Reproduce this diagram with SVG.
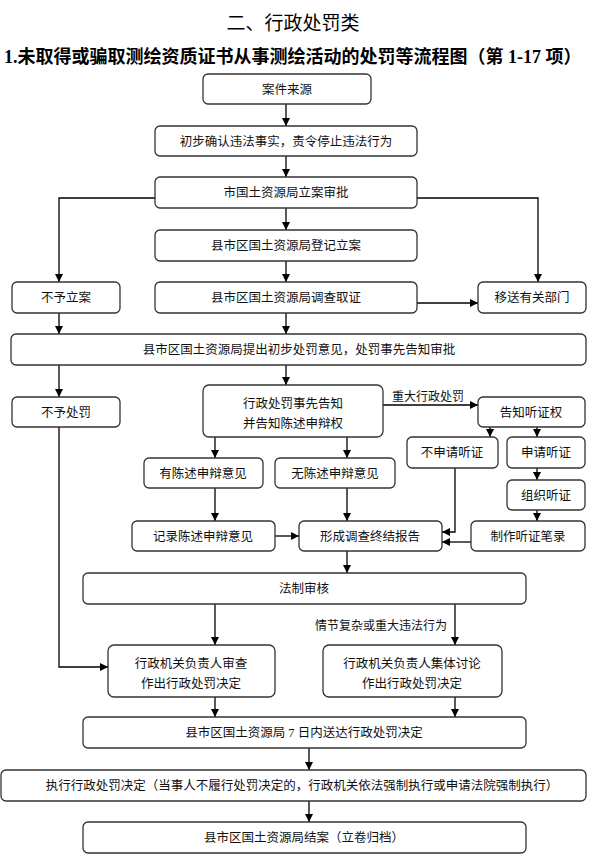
<svg xmlns="http://www.w3.org/2000/svg" width="590" height="865" viewBox="0 0 590 865">
<defs>
<marker id="ah" markerUnits="userSpaceOnUse" markerWidth="9" markerHeight="8" refX="8" refY="4" orient="auto">
<path d="M0,0 L8,4 L0,8 Z" fill="#000"/>
</marker>
<style>
.b{fill:#fff;stroke:#333;stroke-width:1.3}
.t{font-family:"Liberation Serif","Noto Sans CJK SC",serif;font-size:12.5px;fill:#111;text-anchor:middle}
.l{font-family:"Liberation Serif","Noto Sans CJK SC",serif;font-size:12px;fill:#111}
.c{fill:none;stroke:#000;stroke-width:1.3}
.c path{marker-end:url(#ah)}
</style>
</defs>
<rect width="590" height="865" fill="#fff"/>
<text x="293" y="30" style="font-family:'Liberation Serif','Noto Sans CJK SC',serif;font-size:19px;text-anchor:middle;fill:#000">二、行政处罚类</text>
<text x="4" y="63" style="font-family:'Liberation Serif','Noto Sans CJK SC',serif;font-size:18px;font-weight:bold;fill:#000">1.未取得或骗取测绘资质证书从事测绘活动的处罚等流程图（第 1-17 项）</text>

<g id="connectors" class="c">
<path d="M286,104 V126"/>
<path d="M286,156 V177"/>
<path d="M286,208 V230"/>
<path d="M286,261 V282"/>
<path d="M155,198 H59 V282"/>
<path d="M417,198 H538 V282"/>
<path d="M417,303 H478"/>
<path d="M59,313 V334"/>
<path d="M286,313 V334"/>
<path d="M59,365 V397"/>
<path d="M286,365 V385"/>
<path d="M59,427 V667 H108"/>
<path d="M383,405 H478"/>
<path d="M215,437 V458"/>
<path d="M347,437 V458"/>
<path d="M215,488 V521"/>
<path d="M347,488 V521"/>
<path d="M275,536 H299"/>
<path d="M490,427 V437"/>
<path d="M537,427 V437"/>
<path d="M537,468 V480"/>
<path d="M537,510 V521"/>
<path d="M455,468 V532 H442"/>
<path d="M471,542 H442"/>
<path d="M347,551 V573"/>
<path d="M215,604 V645"/>
<path d="M455,604 V645"/>
<path d="M215,697 V717"/>
<path d="M455,697 V717"/>
<path d="M309,748 V770"/>
<path d="M309,801 V822"/>
</g>
<text class="l" x="392" y="401">重大行政处罚</text>
<text class="l" x="447" y="630" text-anchor="end">情节复杂或重大违法行为</text>

<g id="n1"><rect class="b" x="203" y="74" width="168" height="30" rx="5"/><text class="t" x="287" y="93.5">案件来源</text></g>
<g id="n2"><rect class="b" x="155" y="126" width="262" height="30" rx="5"/><text class="t" x="286" y="145.5">初步确认违法事实，责令停止违法行为</text></g>
<g id="n3"><rect class="b" x="155" y="177" width="262" height="31" rx="5"/><text class="t" x="286" y="197">市国土资源局立案审批</text></g>
<g id="n4"><rect class="b" x="155" y="230" width="262" height="31" rx="5"/><text class="t" x="286" y="250">县市区国土资源局登记立案</text></g>
<g id="n5"><rect class="b" x="155" y="282" width="262" height="31" rx="5"/><text class="t" x="286" y="302">县市区国土资源局调查取证</text></g>
<g id="n6"><rect class="b" x="12" y="282" width="108" height="31" rx="5"/><text class="t" x="66" y="302">不予立案</text></g>
<g id="n7"><rect class="b" x="478" y="282" width="108" height="31" rx="5"/><text class="t" x="532" y="302">移送有关部门</text></g>
<g id="n8"><rect class="b" x="11" y="334" width="575" height="31" rx="5"/><text class="t" x="299" y="354">县市区国土资源局提出初步处罚意见，处罚事先告知审批</text></g>
<g id="n9"><rect class="b" x="12" y="397" width="108" height="30" rx="5"/><text class="t" x="66" y="416.5">不予处罚</text></g>
<g id="n10"><rect class="b" x="203" y="385" width="180" height="52" rx="6"/><text class="t" x="293" y="407.5">行政处罚事先告知</text><text class="t" x="293" y="427.5">并告知陈述申辩权</text></g>
<g id="n11"><rect class="b" x="478" y="397" width="107" height="30" rx="5"/><text class="t" x="531" y="416.5">告知听证权</text></g>
<g id="n12"><rect class="b" x="407" y="437" width="91" height="31" rx="5"/><text class="t" x="452" y="457">不申请听证</text></g>
<g id="n13"><rect class="b" x="507" y="437" width="78" height="31" rx="5"/><text class="t" x="546" y="457">申请听证</text></g>
<g id="n14"><rect class="b" x="507" y="480" width="78" height="30" rx="5"/><text class="t" x="546" y="499.5">组织听证</text></g>
<g id="n15"><rect class="b" x="144" y="458" width="119" height="30" rx="5"/><text class="t" x="203" y="477.5">有陈述申辩意见</text></g>
<g id="n16"><rect class="b" x="275" y="458" width="120" height="30" rx="5"/><text class="t" x="335" y="477.5">无陈述申辩意见</text></g>
<g id="n17"><rect class="b" x="132" y="521" width="143" height="30" rx="5"/><text class="t" x="203" y="540.5">记录陈述申辩意见</text></g>
<g id="n18"><rect class="b" x="299" y="521" width="143" height="30" rx="5"/><text class="t" x="370" y="540.5">形成调查终结报告</text></g>
<g id="n19"><rect class="b" x="471" y="521" width="114" height="30" rx="5"/><text class="t" x="528" y="540.5">制作听证笔录</text></g>
<g id="n20"><rect class="b" x="83" y="573" width="443" height="31" rx="5"/><text class="t" x="304" y="593">法制审核</text></g>
<g id="n21"><rect class="b" x="108" y="645" width="167" height="52" rx="6"/><text class="t" x="191" y="667.5">行政机关负责人审查</text><text class="t" x="191" y="687.5">作出行政处罚决定</text></g>
<g id="n22"><rect class="b" x="323" y="645" width="179" height="52" rx="6"/><text class="t" x="412" y="667.5">行政机关负责人集体讨论</text><text class="t" x="412" y="687.5">作出行政处罚决定</text></g>
<g id="n23"><rect class="b" x="83" y="717" width="443" height="31" rx="5"/><text class="t" x="304" y="737">县市区国土资源局 7 日内送达行政处罚决定</text></g>
<g id="n24"><rect class="b" x="1" y="770" width="585" height="31" rx="5"/><text class="t" x="302" y="790">执行行政处罚决定（当事人不履行处罚决定的，行政机关依法强制执行或申请法院强制执行）</text></g>
<g id="n25"><rect class="b" x="83" y="822" width="443" height="31" rx="5"/><text class="t" x="304" y="842">县市区国土资源局结案（立卷归档）</text></g>
</svg>
